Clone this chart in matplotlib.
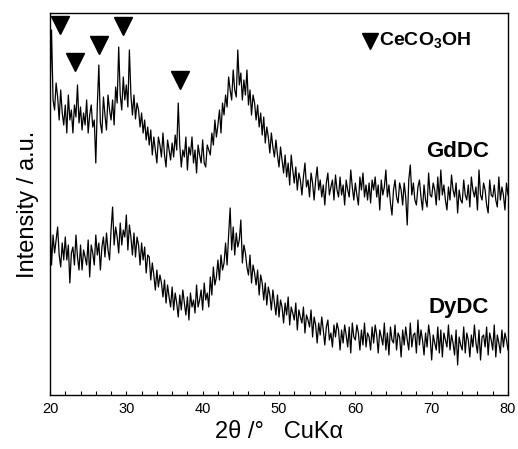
import numpy as np
import matplotlib
matplotlib.use("Agg")
import matplotlib.pyplot as plt

plt.rcParams['font.family'] = ['Liberation Sans', 'DejaVu Sans']
plt.rcParams['mathtext.fontset'] = 'custom'
plt.rcParams['mathtext.rm'] = 'Liberation Sans'
plt.rcParams['mathtext.bf'] = 'Liberation Sans:bold'

# 2theta grid (deg), step 0.2
two_theta = np.linspace(20.0, 80.0, 301)

# Intensity (a.u.) (5 points per degree)
gddc = [
    300, 365, 295, 285, 312,  298, 275, 305, 282, 270,  290, 262, 300, 275, 285,  262, 290, 278, 310, 272,
    288, 265, 282, 270, 295,  262, 280, 290, 268, 275,  232, 290, 330, 272, 262,  298, 280, 265, 300, 285,
    275, 295, 270, 308, 292,  348, 300, 285, 318, 295,  310, 288, 345, 300, 280,  300, 276, 292, 285, 268,
    282, 262, 275, 255, 268,  250, 265, 240, 258, 245,  232, 258, 250, 238, 262,  240, 228, 255, 245, 235,
    252, 238, 260, 245, 292,  250, 228, 245, 238, 258,  225, 248, 240, 258, 232,  245, 222, 250, 240, 232,
    255, 232, 228, 250, 245,  240, 262, 250, 275, 258,  270, 285, 262, 292, 280,  300, 288, 318, 305, 295,
    325, 305, 298, 345, 310,  322, 295, 315, 300, 325,  290, 305, 280, 300, 292,  275, 290, 268, 282, 260,
    278, 252, 268, 258, 242,  262, 248, 238, 255, 240,  228, 248, 235, 222, 240,  218, 232, 210, 240, 225,
    212, 228, 205, 222, 215,  200, 218, 232, 208, 215,  198, 222, 212, 195, 215,  228, 205, 215, 198, 210,
    190, 212, 222, 200, 208,  215, 195, 220, 205, 198,  218, 200, 210, 190, 215,  205, 198, 225, 208, 195,
    212, 200, 190, 218, 205,  222, 198, 210, 195, 212,  192, 215, 205, 218, 198,  210, 185, 215, 200, 208,
    225, 198, 210, 192, 180,  205, 215, 198, 192, 212,  205, 190, 212, 198, 170,  215, 230, 200, 212, 195,
    190, 208, 215, 198, 185,  210, 195, 188, 222, 200,  198, 212, 205, 190, 218,  195, 225, 200, 210, 195,
    185, 208, 195, 220, 205,  198, 212, 182, 205, 195,  192, 215, 200, 195, 210,  188, 218, 205, 198, 208,
    185, 225, 200, 195, 212,  205, 190, 182, 215, 200,  198, 210, 195, 188, 218,  195, 208, 200, 185, 212,
    200,
]

dydc = [
    175, 130, 160, 142, 155,  168, 140, 128, 152, 135,  158, 135, 150, 112, 142,  148, 130, 160, 138, 125,
    150, 125, 145, 138, 130,  155, 118, 150, 142, 130,  160, 140, 152, 125, 148,  158, 138, 162, 145, 135,
    165, 188, 150, 168, 158,  142, 172, 150, 165, 158,  180, 145, 170, 158, 140,  162, 138, 158, 150, 130,
    152, 135, 148, 122, 140,  138, 115, 132, 120, 105,  125, 108, 120, 112, 98,   115, 92, 110, 98, 88,
    108, 85, 102, 92, 78,     100, 85, 105, 92, 80,     98, 75, 102, 88, 95,      82, 110, 88, 95, 105,
    85, 112, 95, 102, 88,     118, 100, 128, 110, 118,  135, 115, 140, 125, 132,  152, 130, 160, 187, 145,
    168, 140, 162, 148, 155,  175, 132, 150, 142, 128,  120, 140, 112, 130, 122,  110, 125, 100, 120, 112,
    95, 112, 90, 108, 100,    85, 105, 92, 80, 100,     78, 95, 88, 72, 92,       80, 98, 70, 88, 82,
    75, 92, 65, 85, 78,       72, 88, 62, 80, 75,       68, 85, 58, 78, 70,       52, 72, 60, 78, 65,
    50, 68, 75, 55, 62,       48, 70, 58, 72, 65,       45, 65, 52, 70, 60,       48, 68, 42, 72, 58,
    55, 70, 62, 45, 65,       50, 72, 48, 62, 58,       45, 68, 52, 70, 60,       42, 65, 58, 50, 72,
    45, 62, 40, 68, 55,       52, 70, 45, 62, 58,       38, 65, 50, 68, 55,       45, 72, 48, 60, 62,
    42, 75, 50, 65, 55,       40, 62, 48, 70, 58,       35, 60, 52, 45, 68,       42, 65, 38, 62, 55,
    48, 70, 45, 60, 52,       40, 65, 30, 58, 50,       45, 68, 42, 62, 55,       38, 60, 48, 70, 52,
    42, 65, 35, 58, 60,       48, 68, 40, 62, 55,       45, 70, 38, 60, 52,       42, 65, 48, 62, 55,
    45,
]

# CeCO3OH reflections marked on GdDC
marker_x = [21.3, 23.3, 26.4, 29.5, 37.0]
marker_y = [370, 333, 350, 369, 315]

W, H = 518, 449
fig = plt.figure(figsize=(W / 100, H / 100), dpi=100)
ax = fig.add_axes([50 / W, 1 - 395 / H, 458 / W, 382 / H])

ax.plot(two_theta, gddc, color='black', lw=0.9)
ax.plot(two_theta, dydc, color='black', lw=0.9)
ax.plot(marker_x, marker_y, 'v', color='black', ms=13, ls='none')

ax.set_xlim(20, 80)
ax.set_ylim(0, 382)
ax.set_xticks(np.arange(20, 81, 10))
ax.set_xticks(np.arange(20, 81, 2), minor=True)
ax.tick_params(axis='x', which='both', direction='in', length=3, width=0.8,
               labelsize=10.5, pad=5, top=False)
ax.set_yticks([])
for s in ax.spines.values():
    s.set_linewidth(1.0)

ax.set_xlabel('2\u03b8 /\u00b0   CuK\u03b1', fontsize=17, labelpad=4)
ax.set_ylabel('Intensity / a.u.', fontsize=17, labelpad=8)

# legend
ax.plot([(370 - 50) / 458], [(395 - 41) / 382], 'v', color='black', ms=11.5,
        transform=ax.transAxes, clip_on=False)
ax.text((379 - 50) / 458, (395 - 41) / 382, r'CeCO$_\mathbf{3}$OH', transform=ax.transAxes,
        fontsize=14, fontweight='bold', ha='left', va='center')

ax.text((458 - 50) / 458, (395 - 157) / 382, 'GdDC', transform=ax.transAxes,
        fontsize=16, fontweight='bold', ha='center', va='baseline')
ax.text((459 - 50) / 458, (395 - 313) / 382, 'DyDC', transform=ax.transAxes,
        fontsize=16, fontweight='bold', ha='center', va='baseline')

fig.savefig('out.png', dpi=100)
